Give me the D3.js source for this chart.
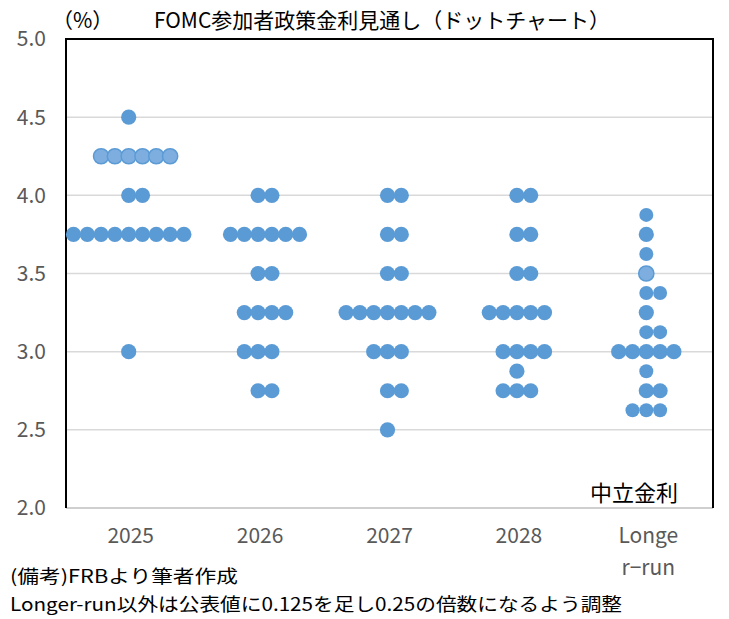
<!DOCTYPE html>
<meta charset="utf-8">
<style>
    body { margin: 0; background: #fff; }
    text { font-family: "Noto Sans CJK JP", "Noto Sans", sans-serif; }
</style>
<svg width="729" height="619"></svg>
<script src="https://d3js.org/d3.v7.min.js"></script>
<script>

    // categories and dots (rate: count), values already shifted by +0.125
    var categories = ["2025", "2026", "2027", "2028", "Longer-run"];
    var rates2025 = [[4.5, 1], [4.25, 6], [4.0, 2], [3.75, 9], [3.0, 1]];
    var rates2026 = [[4.0, 2], [3.75, 6], [3.5, 2], [3.25, 4], [3.0, 3], [2.75, 2]];
    var rates2027 = [[4.0, 2], [3.75, 2], [3.5, 2], [3.25, 7], [3.0, 3], [2.75, 2], [2.5, 1]];
    var rates2028 = [[4.0, 2], [3.75, 2], [3.5, 2], [3.25, 5], [3.0, 4], [2.875, 1], [2.75, 3]];
    var ratesLong = [[3.875, 1], [3.75, 1], [3.625, 1], [3.5, 1], [3.375, 2], [3.25, 1],
                     [3.125, 2], [3.0, 5], [2.875, 1], [2.75, 2], [2.625, 3]];
    var yTicks = [2.0, 2.5, 3.0, 3.5, 4.0, 4.5, 5.0];
    // rows drawn in the lighter shade
    var lightRows = [["2025", 4.25], ["Longer-run", 3.5]];

    var svg = d3.select("svg"),
        pLeft = 66, pRight = 713, pTop = 39, pBottom = 508;

    var x = d3.scaleBand().domain(categories).range([pLeft, pRight]);
    var y = d3.scaleLinear().domain([2, 5]).range([pBottom, pTop]);
    var step = 13.8;

    // gridlines
    svg.append("g").selectAll("line")
        .data(yTicks)
        .enter().append("line")
        .attr("x1", pLeft).attr("x2", pRight)
        .attr("y1", function (d) { return y(d); })
        .attr("y2", function (d) { return y(d); })
        .attr("stroke", function (d) { return d === 2 ? "#bfbfbf" : "#d9d9d9"; })
        .attr("stroke-width", 1.5);

    // border (top, left, right)
    svg.append("path")
        .attr("d", "M" + pLeft + "," + pBottom + "V" + pTop + "H" + pRight + "V" + pBottom)
        .attr("fill", "none").attr("stroke", "#000").attr("stroke-width", 2);

    // y tick labels
    svg.append("g").selectAll("text")
        .data(yTicks)
        .enter().append("text")
        .attr("x", 46)
        .attr("y", function (d) { return y(d); })
        .attr("dy", "0.35em")
        .attr("text-anchor", "end")
        .attr("fill", "#595959")
        .style("font-size", "21px")
        .text(function (d) { return d.toFixed(1); });

    // x labels
    var xl = svg.append("g").selectAll("text")
        .data(categories)
        .enter().append("text")
        .attr("x", function (d) { return x(d) + x.bandwidth() / 2; })
        .attr("y", 543)
        .attr("text-anchor", "middle")
        .attr("fill", "#595959")
        .style("font-size", "21px");
    xl.each(function (d) {
        var t = d3.select(this);
        if (d === "Longer-run") {
            t.append("tspan").text("Longe");
            t.append("tspan").attr("x", x(d) + x.bandwidth() / 2).attr("dy", 32).text("r\u2212run");
        } else {
            t.text(d);
        }
    });

    // dots
    var series = [rates2025, rates2026, rates2027, rates2028, ratesLong];
    var dots = [];
    series.forEach(function (rows, ci) {
        var cat = categories[ci];
        rows.forEach(function (r) {
            var n = r[1], off = Math.floor((n - 1) / 2);
            var light = lightRows.some(function (l) { return l[0] === cat && l[1] === r[0]; });
            for (var i = 0; i < n; i++) {
                dots.push({cat: cat, rate: r[0], k: i - off, light: light});
            }
        });
    });

    svg.append("g").selectAll("circle")
        .data(dots)
        .enter().append("circle")
        .attr("cx", function (d) { return x(d.cat) + x.bandwidth() / 2 - 2 + d.k * step; })
        .attr("cy", function (d) { return y(d.rate); })
        .attr("r", function (d) { return d.rate * 8 % 2 === 1 && d.cat === "Longer-run" ? 7 : 7.6; })
        .attr("fill", function (d) { return d.light ? "#7eaedf" : "#5b9bd5"; })
        .attr("stroke", function (d) { return d.light ? "#5b9bd5" : "none"; })
        .attr("stroke-width", 1.5);

    // texts
    svg.append("text").attr("x", 52).attr("y", 28)
        .style("font-size", "21px").text("（%）");
    svg.append("text").attr("x", 382).attr("y", 28).attr("text-anchor", "middle")
        .style("font-size", "21px").text("FOMC参加者政策金利見通し（ドットチャート）");
    svg.append("text").attr("x", 678).attr("y", 501).attr("text-anchor", "end")
        .style("font-size", "22px").text("中立金利");
    svg.append("text").attr("x", 10).attr("y", 583)
        .style("font-size", "18px").attr("textLength", 228).attr("lengthAdjust", "spacingAndGlyphs")
        .text("(備考)FRBより筆者作成");
    svg.append("text").attr("x", 10).attr("y", 611)
        .style("font-size", "18px").attr("textLength", 612).attr("lengthAdjust", "spacingAndGlyphs")
        .text("Longer-run以外は公表値に0.125を足し0.25の倍数になるよう調整");
</script>
